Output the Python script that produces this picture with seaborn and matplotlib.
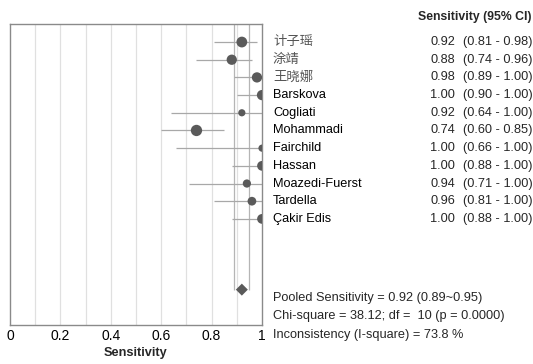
import matplotlib
matplotlib.use("Agg")
import matplotlib.pyplot as plt
import matplotlib.transforms as mtransforms
import seaborn as sns
import pandas as pd

studies = ["计子瑶", "涂靖", "王晓娜", "Barskova", "Cogliati", "Mohammadi",
           "Fairchild", "Hassan", "Moazedi-Fuerst", "Tardella", "Çakir Edis"]
sens = [0.92, 0.88, 0.98, 1.00, 0.92, 0.74, 1.00, 1.00, 0.94, 0.96, 1.00]
ci_low = [0.81, 0.74, 0.89, 0.90, 0.64, 0.60, 0.66, 0.88, 0.71, 0.81, 0.88]
ci_high = [0.98, 0.96, 1.00, 1.00, 1.00, 0.85, 1.00, 1.00, 1.00, 1.00, 1.00]
weights = [10.5, 10, 10, 10, 7, 11, 7, 9.5, 8, 8.5, 9.5]
pooled = 0.92
pooled_low = 0.89
pooled_high = 0.95
pooled_lines = ["Pooled Sensitivity = 0.92 (0.89~0.95)",
                "Chi-square = 38.12; df =  10 (p = 0.0000)",
                "Inconsistency (I-square) = 73.8 %"]
xticks = [0, 0.2, 0.4, 0.6, 0.8, 1]
xtick_labels = ["0", "0.2", "0.4", "0.6", "0.8", "1"]

sns.set_theme(style="white")
fam = ["Liberation Sans", "Noto Sans CJK SC", "DejaVu Sans"]
plt.rcParams["font.family"] = fam

FS = 9.2
W, H = 533, 364
fig = plt.figure(figsize=(W / 100, H / 100), dpi=100)
ax = fig.add_axes([10 / W, 1 - 325 / H, 252 / W, 301 / H])

rows = list(range(len(studies)))
pooled_row = 14
df = pd.DataFrame({"study": studies, "sens": sens, "lo": ci_low, "hi": ci_high,
                   "w": weights, "row": rows})
df["area"] = (df["w"] * 0.74) ** 2

# grid lines
for g in [0.1 * i for i in range(1, 10)]:
    ax.axvline(g, color="#e0e0e0", lw=0.9, zorder=0)
# pooled CI reference lines
ax.vlines([pooled_low, pooled_high], -1.1, pooled_row, color="#b5b5b5", lw=0.9, zorder=1)

# CI lines
ax.hlines(df["row"], df["lo"], df["hi"], color="#a8a8a8", lw=0.9, zorder=2)
# points
sns.scatterplot(data=df, x="sens", y="row", s=df["area"].values, color="#5a5a5a",
                edgecolor="none", legend=False, ax=ax, zorder=3)
# pooled diamond
ax.scatter([pooled], [pooled_row], marker="D", s=(8.5 * 0.72) ** 2, color="#5a5a5a",
           edgecolor="none", zorder=4)

ax.set_xlim(0, 1)
ax.set_ylim(16.0, -1.02)
ax.set_yticks([])
ax.set_xticks(xticks)
ax.set_xticklabels(xtick_labels, fontsize=10)
ax.tick_params(axis="x", length=0, pad=3, colors="black")
ax.set_xlabel("Sensitivity", fontsize=9.2, fontweight="bold", labelpad=3)
ax.set_ylabel("")
for sp in ax.spines.values():
    sp.set_color("#8a8a8a")
    sp.set_linewidth(1.0)

tr = mtransforms.blended_transform_factory(fig.transFigure, ax.transData)
for i, name in enumerate(studies):
    is_cjk = any(ord(c) > 0x2E80 for c in name)
    fig.text(273 / W, rows[i], name, transform=tr, ha="left", va="center",
             fontsize=FS + (0.4 if is_cjk else 0), color="#555555" if is_cjk else "black")
    fig.text(455 / W, rows[i], f"{sens[i]:.2f}", transform=tr, ha="right",
             va="center", fontsize=FS)
    fig.text(463 / W, rows[i], f"({ci_low[i]:.2f} - {ci_high[i]:.2f})", transform=tr,
             ha="left", va="center", fontsize=FS)

fig.text(531 / W, 1 - 17 / H, "Sensitivity (95% CI)", ha="right", va="center",
         fontsize=8.8, fontweight="bold")

for j, line in enumerate(pooled_lines):
    fig.text(273 / W, 1 - (298 + 18.5 * j) / H, line, ha="left", va="center", fontsize=FS)

fig.savefig("out.png", dpi=100, facecolor="white")
